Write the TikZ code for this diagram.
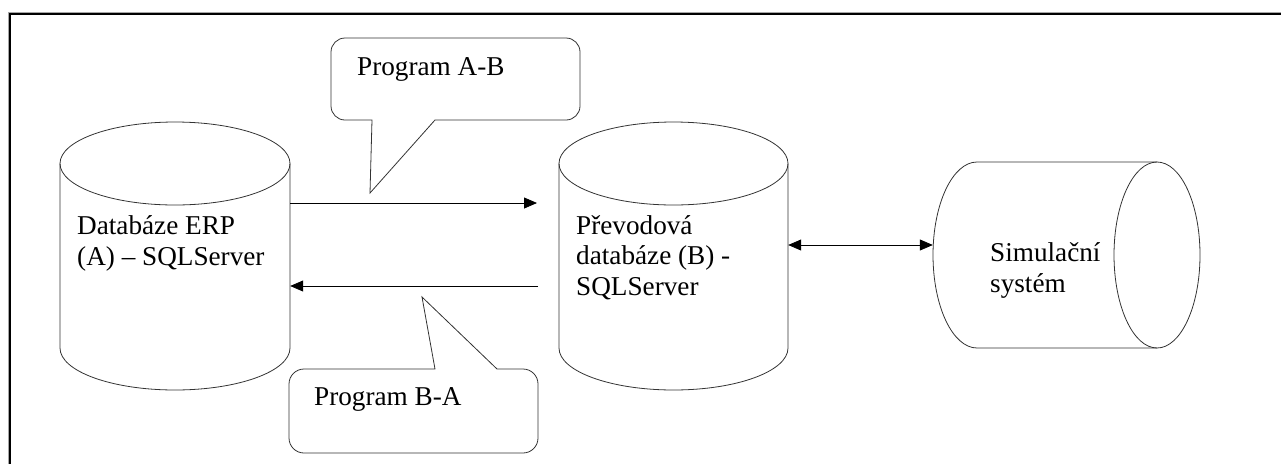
\documentclass[tikz,border=0pt]{standalone}
\usepackage{fontspec}
\setmainfont{Liberation Serif}
\usetikzlibrary{arrows.meta}
\begin{document}
\begin{tikzpicture}[x=1pt,y=1pt,
  shapeline/.style={draw=black!80, line width=0.8pt},
  holder/.style={draw=none, inner sep=0pt, rectangle},
  lbl/.style={inner sep=0pt, anchor=base west, align=left, font=\fontsize{27.2}{30.5}\selectfont},
  arr/.style={draw=black, line width=0.8pt, -{Triangle[length=13pt,width=11pt]}},
  darr/.style={draw=black, line width=0.8pt, {Triangle[length=13pt,width=11pt]}-{Triangle[length=13pt,width=11pt]}}
]
\useasboundingbox (0,0) rectangle (1281,-464);
% frame (only left and top edges visible)
\draw[black!35, line width=0.8pt] (8.3,-464) -- (8.3,-12.6) -- (1281,-12.6);
\draw[black, line width=2pt] (10.3,-464) -- (10.3,-14.4) -- (1281,-14.4);

% placeholder nodes for the three stores
\node[holder, minimum width=230pt, minimum height=268pt] (A) at (175,-256) {};
\node[holder, minimum width=229pt, minimum height=268pt] (B) at (673.5,-256) {};
\node[holder, minimum width=267pt, minimum height=186pt] (C) at (1066.5,-255) {};

% cylinder A
\draw[shapeline] (175,-163.5) ellipse[x radius=115pt, y radius=41.5pt];
\draw[shapeline] (60,-163.5) -- (60,-348) arc[start angle=180, end angle=360, x radius=115pt, y radius=42pt] -- (290,-163.5);
% cylinder B
\draw[shapeline] (673.5,-163.5) ellipse[x radius=114.5pt, y radius=41.5pt];
\draw[shapeline] (559,-163.5) -- (559,-348) arc[start angle=180, end angle=360, x radius=114.5pt, y radius=42pt] -- (788,-163.5);
% cylinder C (horizontal)
\draw[shapeline] (1157,-255) ellipse[x radius=43pt, y radius=93pt];
\draw[shapeline] (1157,-162) -- (977,-162) arc[start angle=90, end angle=270, x radius=44pt, y radius=93pt] -- (1157,-348);

% texts (base anchor = baseline of the last line)
\node[lbl] (tA) at (77,-265) {Databáze ERP\\(A) – SQLServer};
\node[lbl] (tB) at (576,-295) {Převodová\\databáze (B) -\\SQLServer};
\node[lbl] (tC) at (990,-292) {Simulační\\systém};

% callout A-B
\draw[shapeline] (372,-120) -- (345,-120)
  arc[start angle=270, end angle=180, radius=14pt] -- (331,-52)
  arc[start angle=180, end angle=90, radius=14pt] -- (566,-38)
  arc[start angle=90, end angle=0, radius=14pt] -- (580,-106)
  arc[start angle=0, end angle=-90, radius=14pt] -- (435,-120) -- (370,-193) -- cycle;
\node[lbl] (pab) at (357,-75) {Program A-B};

% callout B-A
\draw[shapeline] (435,-369) -- (304,-369)
  arc[start angle=90, end angle=180, radius=15pt] -- (289,-438)
  arc[start angle=180, end angle=270, radius=15pt] -- (523,-453)
  arc[start angle=270, end angle=360, radius=15pt] -- (538,-384)
  arc[start angle=0, end angle=90, radius=15pt] -- (497,-369) -- (422,-297) -- cycle;
\node[lbl] (pba) at (314,-405) {Program B-A};

% connectors
\coordinate (ab) at (537,-203);
\coordinate (ba) at (538,-286);
\coordinate (bc) at (0,-245);
\draw[arr] (A.east |- ab) -- (ab);
\draw[arr] (ba) -- (A.east |- ba);
\draw[darr] (B.east |- bc) -- (C.west |- bc);
\end{tikzpicture}
\end{document}
